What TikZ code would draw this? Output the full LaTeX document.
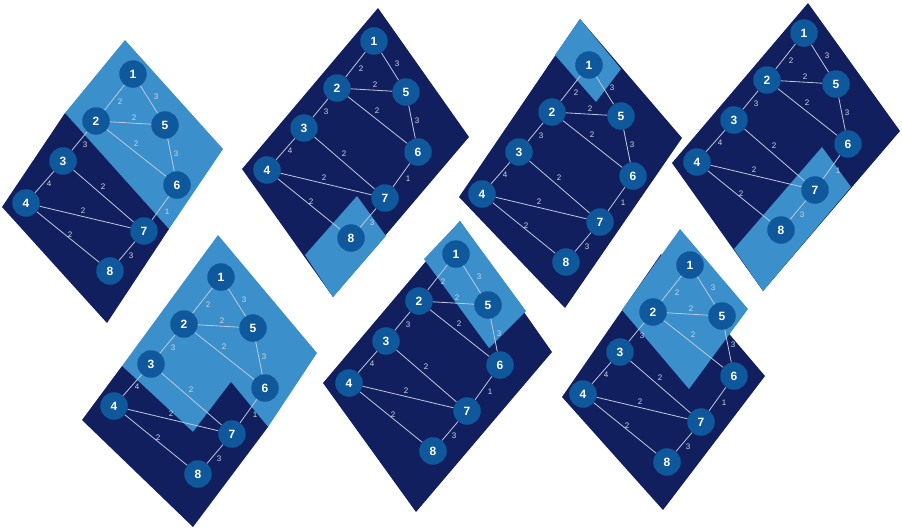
\documentclass[tikz,border=0pt]{standalone}
\usepackage{fontspec}
\setmainfont{Liberation Sans}
\definecolor{navybg}{RGB}{18,31,94}
\definecolor{skybg}{RGB}{59,143,203}
\definecolor{nodeblue}{RGB}{15,88,156}
\definecolor{edgegray}{RGB}{190,202,222}
\definecolor{lblgray}{RGB}{205,214,232}
\tikzset{
  gnode/.style={circle, fill=nodeblue, minimum size=27.5pt, inner sep=0pt, text=white, font=\bfseries\fontsize{12}{12}\selectfont},
  gedge/.style={draw=edgegray, line width=0.8pt},
  elbl/.style={text=lblgray, font=\fontsize{8}{8}\selectfont, inner sep=0pt},
  darkpart/.style={fill=navybg},
  lightpart/.style={fill=skybg},
}
\newcommand\drawgraph[3]{%
\begin{scope}[shift={(#2,#3)}]
\node[gnode] (#1-1) at (0,0) {1};
\node[gnode] (#1-2) at (-37,47) {2};
\node[gnode] (#1-5) at (32,51) {5};
\node[gnode] (#1-3) at (-70,87) {3};
\node[gnode] (#1-6) at (44,111) {6};
\node[gnode] (#1-4) at (-107,129) {4};
\node[gnode] (#1-7) at (11,157) {7};
\node[gnode] (#1-8) at (-23,197) {8};
\draw[gedge] (#1-1) -- (#1-2) node[elbl] at (-13,28) {2};
\draw[gedge] (#1-1) -- (#1-5) node[elbl] at (23,23) {3};
\draw[gedge] (#1-2) -- (#1-5) node[elbl] at (1,44) {2};
\draw[gedge] (#1-2) -- (#1-3) node[elbl] at (-48,71) {3};
\draw[gedge] (#1-2) -- (#1-6) node[elbl] at (3,70) {2};
\draw[gedge] (#1-5) -- (#1-6) node[elbl] at (43,80) {3};
\draw[gedge] (#1-3) -- (#1-4) node[elbl] at (-84,110) {4};
\draw[gedge] (#1-3) -- (#1-7) node[elbl] at (-30,113) {2};
\draw[gedge] (#1-4) -- (#1-7) node[elbl] at (-50,137) {2};
\draw[gedge] (#1-4) -- (#1-8) node[elbl] at (-63,161) {2};
\draw[gedge] (#1-6) -- (#1-7) node[elbl] at (34,138) {1};
\draw[gedge] (#1-7) -- (#1-8) node[elbl] at (-2,182) {3};
\end{scope}}
\begin{document}
\begin{tikzpicture}[x=1pt,y=-1pt]
\useasboundingbox (0,0) rectangle (902,528);
% panel 1
\fill[lightpart] (125,40) -- (223,149) -- (169,229) -- (65,113) -- cycle;
\fill[darkpart] (65,113) -- (169,229) -- (107,323) -- (2,207) -- cycle;
\drawgraph{pa}{133}{74}
% panel 2
\fill[darkpart] (378,8) -- (469,137) -- (333,297) -- (242,169) -- cycle;
\fill[lightpart] (357,196) -- (386,236) -- (333,297) -- (305,255) -- cycle;
\drawgraph{pb}{374}{41}
% panel 3
\fill[darkpart] (580,19) -- (682,138) -- (565,308) -- (459,197) -- cycle;
\fill[lightpart] (580,19) -- (621,69) -- (596,102) -- (555,55) -- cycle;
\drawgraph{pc}{589}{65}
% panel 4
\fill[darkpart] (808,3) -- (900,131) -- (763,291) -- (672,163) -- cycle;
\fill[lightpart] (822,147) -- (851,187) -- (763,291) -- (734,249) -- cycle;
\drawgraph{pd}{804}{33}
% panel 5
\fill[lightpart] (218,235) -- (317,353) -- (268,427) -- (193,440) -- (122,366) -- cycle;
\fill[darkpart] (122,366) -- (193,432) -- (231,382) -- (268,427) -- (193,527) -- (82,420) -- cycle;
\drawgraph{pe}{221}{277}
% panel 6
\fill[darkpart] (460,221) -- (552,352) -- (416,512) -- (323,383) -- cycle;
\fill[lightpart] (460,221) -- (526,311) -- (489,348) -- (424,259) -- cycle;
\drawgraph{pf}{456}{254}
% panel 7
\fill[darkpart] (661,254) -- (765,376) -- (663,510) -- (562,397) -- cycle;
\fill[lightpart] (680,229) -- (748,309) -- (689,389) -- (622,310) -- cycle;
\drawgraph{pg}{690}{265}
\end{tikzpicture}
\end{document}
